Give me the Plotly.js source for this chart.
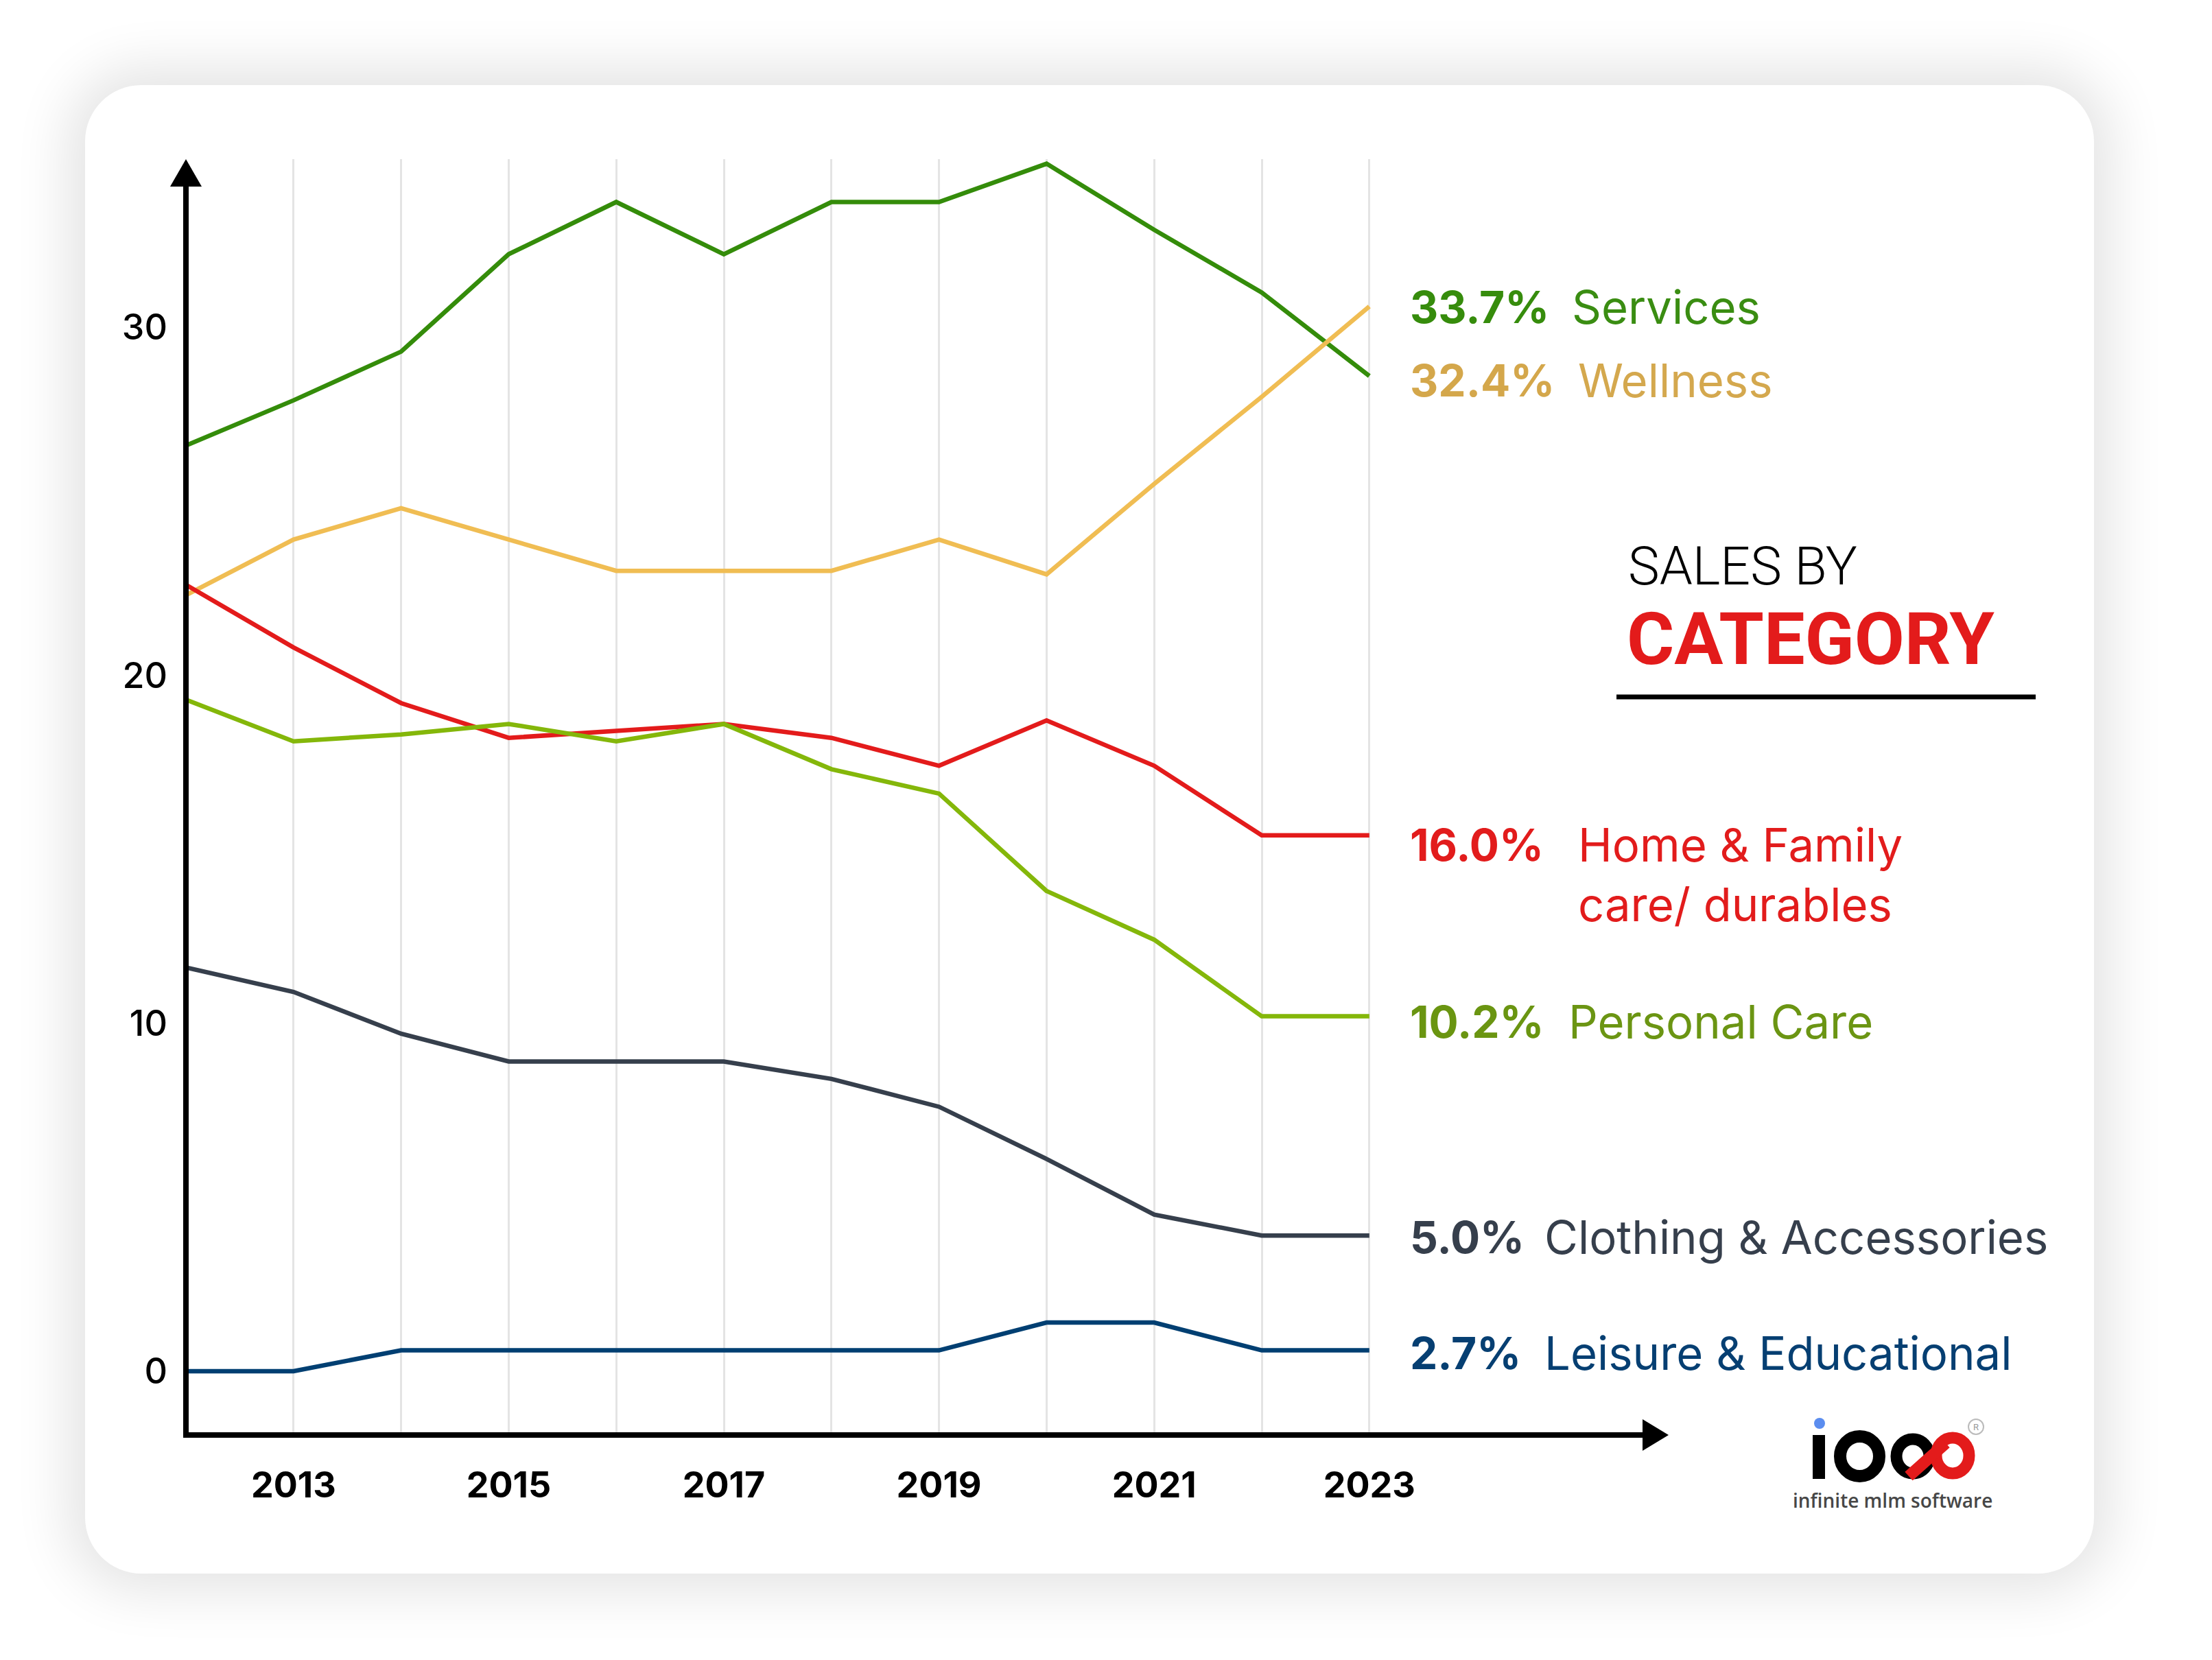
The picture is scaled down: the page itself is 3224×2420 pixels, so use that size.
<!DOCTYPE html>
<html>
<head>
<meta charset="utf-8">
<script src="https://cdn.plot.ly/plotly-3.0.1.min.js"></script>
<style>
  html, body { margin: 0; padding: 0; background: #ffffff; }
  #wrap { position: relative; width: 3224px; height: 2420px; overflow: hidden; background: #ffffff; }
  #card { position: absolute; left: 124px; top: 124px; width: 2928px; height: 2170px;
          border-radius: 82px; background: #ffffff;
          box-shadow: 0 0 80px 25px rgba(0,0,0,0.11); }
  #chart { position: absolute; left: 0; top: 0; width: 3224px; height: 2420px; }
</style>
</head>
<body>
<div id="wrap">
  <div id="card"></div>
  <div id="chart"></div>
</div>
<script>
// ---------------- DATA ----------------
const years = [2012, 2013, 2014, 2015, 2016, 2017, 2018, 2019, 2020, 2021, 2022, 2023];
const services  = [26.6, 27.9, 29.3, 32.1, 33.6, 32.1, 33.6, 33.6, 34.7, 32.8, 31.0, 28.6];
const wellness  = [22.3, 23.9, 24.8, 23.9, 23.0, 23.0, 23.0, 23.9, 22.9, 25.5, 28.0, 30.6];
const homeFamily = [22.6, 20.8, 19.2, 18.2, 18.4, 18.6, 18.2, 17.4, 18.7, 17.4, 15.4, 15.4];
const personalCare = [19.3, 18.1, 18.3, 18.6, 18.1, 18.6, 17.3, 16.6, 13.8, 12.4, 10.2, 10.2];
const clothing  = [11.6, 10.9, 9.7, 8.9, 8.9, 8.9, 8.4, 7.6, 6.1, 4.5, 3.9, 3.9];
const leisure   = [0.0, 0.0, 0.6, 0.6, 0.6, 0.6, 0.6, 0.6, 1.4, 1.4, 0.6, 0.6];

const categoryNames = ['Services', 'Wellness', 'Home & Family<br>care/ durables', 'Personal Care',
                       'Clothing & Accessories', 'Leisure & Educational'];
const shares2023 = [33.7, 32.4, 16.0, 10.2, 5.0, 2.7];

const xTickVals = [2013, 2014, 2015, 2016, 2017, 2018, 2019, 2020, 2021, 2022, 2023];
const xTickText = ['2013', '', '2015', '', '2017', '', '2019', '', '2021', '', '2023'];
const yTickVals = [0, 10, 20, 30];
const yTickText = ['0', '10', '20', '30'];

const titleLine1 = 'SALES BY';
const titleLine2 = 'CATEGORY';
const logoText = 'infinite mlm software';

// ---------------- STYLE / LAYOUT ----------------
const W = 3224, H = 2420;
const fx = x => x / W;
const fy = y => 1 - y / H;
function pathFrom(pts) {
  return pts.map((p, i) => (i ? 'L ' : 'M ') + fx(p[0]).toFixed(6) + ' ' + fy(p[1]).toFixed(6)).join(' ') + ' Z';
}

const seriesList = [services, wellness, homeFamily, personalCare, clothing, leisure];
const lineColors = ['#348c0a', '#f0bd53', '#e31b1b', '#84b70a', '#363f4c', '#003f72'];
const pctColors  = ['#368c0c', '#d4a74b', '#e21c1c', '#6a9511', '#363f4c', '#063f72'];
const nameColors = ['#3a8d12', '#d4a84e', '#e21c1c', '#6b9513', '#363f4c', '#063f72'];
const labelY = [448, 555, 1232, 1490, 1803, 1972];
const nameX  = [2289, 2298, 2298, 2284, 2249, 2249];
const pctX = 2053;

const traces = seriesList.map((s, i) => ({
  x: years, y: s, type: 'scatter', mode: 'lines',
  line: { color: lineColors[i], width: 6.5 },
  hoverinfo: 'skip', showlegend: false
}));

// axis geometry (pixels)
const axX = 271, axBottom = 2092, axTop = 232, xRight = 2394;
const pxPerYear = 156.8, y0px = 1999, pxPerUnit = 50.73;

const annotations = [];
shares2023.forEach((v, i) => {
  annotations.push({
    xref: 'paper', yref: 'paper', x: fx(pctX), y: fy(labelY[i]),
    xanchor: 'left', yanchor: 'middle', showarrow: false,
    text: v.toFixed(1) + '%',
    font: { family: 'Inter, Roboto, sans-serif', size: 64, weight: 700, color: pctColors[i] }
  });
  const twoLine = categoryNames[i].indexOf('<br>') >= 0;
  annotations.push({
    xref: 'paper', yref: 'paper', x: fx(nameX[i]), y: fy(twoLine ? labelY[i] + 43 : labelY[i]),
    xanchor: 'left', yanchor: 'middle', align: 'left', showarrow: false,
    text: categoryNames[i],
    font: { family: 'Inter, Roboto, sans-serif', size: 67, weight: 400, color: nameColors[i] }
  });
});
annotations.push({
  xref: 'paper', yref: 'paper', x: fx(2371), y: fy(826), xanchor: 'left', yanchor: 'middle',
  showarrow: false, text: titleLine1,
  font: { family: 'Roboto, sans-serif', size: 77, weight: 300, color: '#000000' }
});
annotations.push({
  xref: 'paper', yref: 'paper', x: fx(2369), y: fy(932), xanchor: 'left', yanchor: 'middle',
  showarrow: false, text: titleLine2,
  font: { family: 'Roboto, sans-serif', size: 106, weight: 700, color: '#e31b1b' }
});
annotations.push({
  xref: 'paper', yref: 'paper', x: fx(2758), y: fy(2187), xanchor: 'center', yanchor: 'middle',
  showarrow: false, text: logoText,
  font: { family: '"Open Sans", sans-serif', size: 28, weight: 600, color: '#474747' }
});
annotations.push({
  xref: 'paper', yref: 'paper', x: fx(2880), y: fy(2080), xanchor: 'center', yanchor: 'middle',
  showarrow: false, text: 'R',
  font: { family: 'Roboto, sans-serif', size: 13, color: '#999999' }
});

const shapes = [
  // y axis line + arrow
  { type: 'line', xref: 'paper', yref: 'paper', x0: fx(axX), x1: fx(axX), y0: fy(axBottom + 4), y1: fy(axTop + 38),
    line: { color: '#000000', width: 8 } },
  { type: 'path', xref: 'paper', yref: 'paper', path: pathFrom([[axX - 23, axTop + 40], [axX, axTop], [axX + 23, axTop + 40]]),
    fillcolor: '#000000', line: { width: 0 } },
  // x axis line + arrow
  { type: 'line', xref: 'paper', yref: 'paper', x0: fx(axX - 4), x1: fx(xRight + 4), y0: fy(axBottom), y1: fy(axBottom),
    line: { color: '#000000', width: 8 } },
  { type: 'path', xref: 'paper', yref: 'paper', path: pathFrom([[xRight, axBottom - 23], [xRight + 38, axBottom], [xRight, axBottom + 23]]),
    fillcolor: '#000000', line: { width: 0 } },
  // title underline
  { type: 'line', xref: 'paper', yref: 'paper', x0: fx(2356), x1: fx(2967), y0: fy(1016), y1: fy(1016),
    line: { color: '#000000', width: 7 } },
  // logo: i
  { type: 'line', xref: 'paper', yref: 'paper', x0: fx(2651), x1: fx(2651), y0: fy(2092), y1: fy(2156),
    line: { color: '#000000', width: 18 } },
  { type: 'circle', xref: 'paper', yref: 'paper', x0: fx(2644), x1: fx(2660), y0: fy(2067), y1: fy(2083),
    fillcolor: '#5b8def', line: { width: 0 } },
  // logo: o
  { type: 'circle', xref: 'paper', yref: 'paper', x0: fx(2682), x1: fx(2739), y0: fy(2094), y1: fy(2152),
    line: { color: '#000000', width: 18 } },
  // logo: infinity (black left loop, red right loop)
  { type: 'circle', xref: 'paper', yref: 'paper', x0: fx(2764), x1: fx(2812), y0: fy(2098), y1: fy(2148),
    line: { color: '#000000', width: 17 } },
  { type: 'circle', xref: 'paper', yref: 'paper', x0: fx(2822), x1: fx(2870), y0: fy(2096), y1: fy(2148),
    line: { color: '#e31b1b', width: 17 } },
  { type: 'line', xref: 'paper', yref: 'paper', x0: fx(2782), x1: fx(2836), y0: fy(2152), y1: fy(2104),
    line: { color: '#e31b1b', width: 17 } },
  // registered mark
  { type: 'circle', xref: 'paper', yref: 'paper', x0: fx(2869), x1: fx(2891), y0: fy(2069), y1: fy(2091),
    line: { color: '#bbbbbb', width: 2 } }
];

const layout = {
  width: W, height: H,
  margin: { l: 0, r: 0, t: 0, b: 0, pad: 0 },
  paper_bgcolor: 'rgba(0,0,0,0)', plot_bgcolor: 'rgba(0,0,0,0)',
  showlegend: false,
  xaxis: {
    domain: [fx(axX), fx(xRight)],
    range: [years[0], years[0] + (xRight - axX) / pxPerYear],
    tickmode: 'array', tickvals: xTickVals, ticktext: xTickText,
    showgrid: true, gridcolor: '#e4e4e4', gridwidth: 3,
    zeroline: false, showline: false, ticks: '',
    ticklabelstandoff: 38,
    tickfont: { family: 'Inter, Roboto, sans-serif', size: 52, weight: 700, color: '#000000' },
    automargin: false, fixedrange: true
  },
  yaxis: {
    domain: [fy(axBottom), fy(axTop)],
    range: [(y0px - axBottom) / pxPerUnit, (y0px - axTop) / pxPerUnit],
    tickmode: 'array', tickvals: yTickVals, ticktext: yTickText,
    showgrid: false, zeroline: false, showline: false, ticks: '',
    ticklabelstandoff: 26,
    tickfont: { family: 'Inter, Roboto, sans-serif', size: 52, weight: 500, color: '#000000' },
    automargin: false, fixedrange: true
  },
  annotations: annotations,
  shapes: shapes
};

Plotly.newPlot('chart', traces, layout, { displayModeBar: false, staticPlot: true });
</script>
</body>
</html>
